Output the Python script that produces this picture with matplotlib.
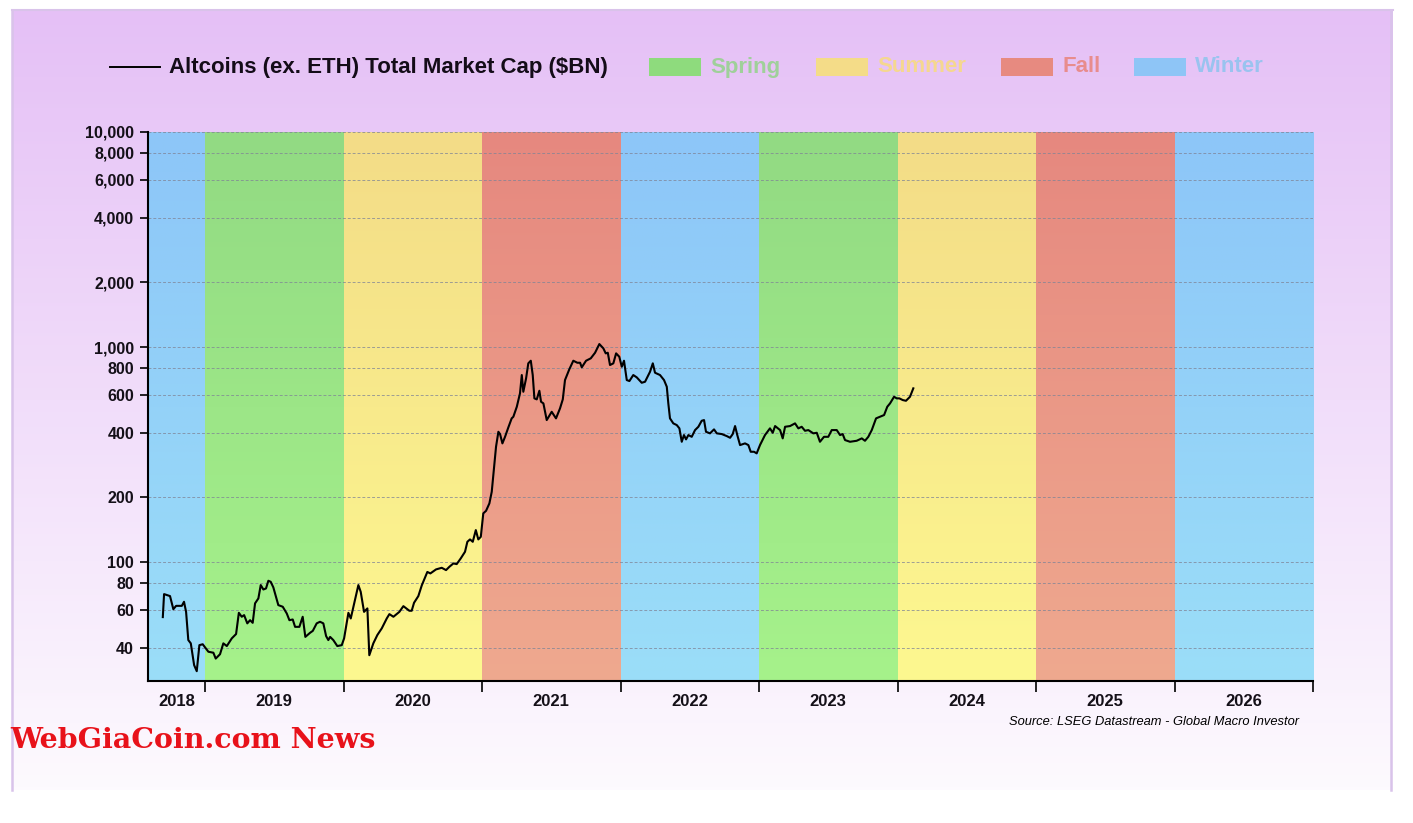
import numpy as np
import matplotlib
matplotlib.use("Agg")
import matplotlib.pyplot as plt
from matplotlib.patches import Rectangle
from matplotlib.lines import Line2D
from matplotlib.colors import to_rgb
from matplotlib.ticker import FixedLocator, NullLocator, NullFormatter

# ---------------- data ----------------
years = [2018.695, 2018.704, 2018.747, 2018.771, 2018.791, 2018.832, 2018.848, 2018.863, 2018.879, 2018.897,
         2018.921, 2018.940, 2018.959, 2018.983, 2019.024, 2019.060, 2019.077, 2019.108, 2019.132, 2019.157,
         2019.193, 2019.224, 2019.244, 2019.265, 2019.282, 2019.305, 2019.325, 2019.344, 2019.361, 2019.385,
         2019.402, 2019.421, 2019.440, 2019.457, 2019.474, 2019.493, 2019.529, 2019.561, 2019.590, 2019.609,
         2019.633, 2019.650, 2019.681, 2019.705, 2019.724, 2019.758, 2019.778, 2019.806, 2019.830, 2019.854,
         2019.874, 2019.890, 2019.903, 2019.926, 2019.955, 2019.987, 2020.004, 2020.035, 2020.052, 2020.071,
         2020.107, 2020.124, 2020.148, 2020.172, 2020.186, 2020.215, 2020.244, 2020.276, 2020.312, 2020.331,
         2020.360, 2020.403, 2020.432, 2020.475, 2020.492, 2020.509, 2020.540, 2020.565, 2020.605, 2020.627,
         2020.668, 2020.709, 2020.740, 2020.764, 2020.793, 2020.817, 2020.846, 2020.877, 2020.894, 2020.913,
         2020.933, 2020.955, 2020.973, 2020.991, 2021.009, 2021.029, 2021.053, 2021.070, 2021.087, 2021.101,
         2021.118, 2021.130, 2021.147, 2021.166, 2021.190, 2021.214, 2021.226, 2021.251, 2021.274, 2021.287,
         2021.298, 2021.318, 2021.334, 2021.352, 2021.366, 2021.378, 2021.395, 2021.414, 2021.426, 2021.443,
         2021.467, 2021.503, 2021.534, 2021.563, 2021.583, 2021.599, 2021.630, 2021.659, 2021.688, 2021.708,
         2021.720, 2021.751, 2021.785, 2021.816, 2021.847, 2021.876, 2021.893, 2021.908, 2021.924, 2021.948,
         2021.968, 2021.991, 2022.009, 2022.025, 2022.045, 2022.064, 2022.092, 2022.117, 2022.153, 2022.177,
         2022.213, 2022.233, 2022.249, 2022.285, 2022.314, 2022.334, 2022.345, 2022.357, 2022.381, 2022.406,
         2022.425, 2022.442, 2022.458, 2022.473, 2022.490, 2022.514, 2022.538, 2022.562, 2022.586, 2022.603,
         2022.617, 2022.646, 2022.675, 2022.695, 2022.731, 2022.767, 2022.791, 2022.810, 2022.827, 2022.843,
         2022.863, 2022.899, 2022.923, 2022.940, 2022.964, 2022.983, 2023.007, 2023.043, 2023.079, 2023.099,
         2023.116, 2023.152, 2023.171, 2023.188, 2023.224, 2023.260, 2023.284, 2023.308, 2023.332, 2023.356,
         2023.392, 2023.417, 2023.440, 2023.469, 2023.500, 2023.525, 2023.561, 2023.585, 2023.604, 2023.621,
         2023.657, 2023.705, 2023.742, 2023.765, 2023.789, 2023.814, 2023.845, 2023.874, 2023.903, 2023.926,
         2023.946, 2023.975, 2023.994, 2024.013, 2024.038, 2024.061, 2024.090, 2024.114]

altcoin_cap = [55.5, 71.0, 69.5, 60.4, 62.6, 62.6, 65.4, 58.7, 43.4, 41.9,
               33.2, 31.1, 41.1, 41.5, 38.3, 37.9, 35.6, 37.3, 41.9, 40.7,
               44.2, 46.3, 58.1, 55.7, 56.7, 51.9, 53.7, 52.2, 64.3, 67.8,
               78.2, 74.6, 75.4, 81.9, 81.0, 76.3, 63.1, 62.0, 57.7, 53.7,
               54.1, 50.0, 50.0, 55.7, 44.9, 46.9, 47.9, 51.9, 52.8, 51.9,
               45.3, 43.4, 44.9, 43.4, 40.7, 41.1, 44.2, 58.1, 54.7, 62.0,
               78.2, 72.7, 58.7, 60.9, 36.9, 41.9, 45.8, 49.2, 54.7, 57.3,
               55.7, 58.7, 62.4, 59.4, 59.4, 64.7, 69.5, 78.0, 90.0, 88.6,
               92.5, 94.1, 91.8, 95.1, 98.6, 97.9, 104.0, 111.7, 124.3, 127.5,
               124.3, 140.9, 127.5, 131.1, 168.5, 173.2, 187.5, 212.3, 277.6, 343.9,
               403.7, 393.9, 356.5, 382.5, 423.2, 466.0, 474.1, 527.7, 609.3, 741.1,
               619.7, 715.3, 840.0, 863.8, 741.1, 577.3, 571.1, 626.3, 556.7, 547.1,
               457.6, 500.0, 466.0, 518.6, 571.1, 702.3, 787.8, 863.8, 845.3, 845.3,
               804.9, 863.8, 886.2, 940.7, 1032.7, 986.0, 934.7, 940.7, 824.8, 840.0,
               934.7, 901.5, 809.8, 863.8, 702.3, 694.9, 741.1, 722.9, 682.3, 689.7,
               767.7, 840.0, 759.6, 741.1, 702.3, 653.7, 547.1, 466.0, 441.7, 433.7,
               418.7, 362.7, 389.7, 372.1, 389.7, 382.5, 411.1, 425.9, 454.2, 457.6,
               403.7, 396.9, 414.2, 396.9, 393.9, 385.5, 378.5, 393.9, 429.2, 389.7,
               350.1, 356.5, 350.1, 325.9, 325.9, 320.3, 350.1, 389.7, 418.7, 399.4,
               429.2, 411.1, 376.1, 425.9, 429.2, 441.7, 418.7, 425.9, 408.0, 411.1,
               396.9, 399.4, 362.7, 382.5, 382.5, 411.1, 411.1, 389.7, 393.9, 369.4,
               362.7, 366.6, 376.1, 366.6, 382.5, 411.1, 466.0, 474.1, 482.9, 527.7,
               547.1, 587.2, 577.3, 577.3, 566.9, 562.6, 587.2, 642.7]

season_names = ["Winter", "Spring", "Summer", "Fall", "Winter", "Spring", "Summer", "Fall", "Winter"]
season_start = [2018.588, 2019, 2020, 2021, 2022, 2023, 2024, 2025, 2026]
season_end = [2019, 2020, 2021, 2022, 2023, 2024, 2025, 2026, 2027]

legend_seasons = ["Spring", "Summer", "Fall", "Winter"]

year_labels = ["2018", "2019", "2020", "2021", "2022", "2023", "2024", "2025", "2026"]
year_label_pos = [2018.794, 2019.5, 2020.5, 2021.5, 2022.5, 2023.5, 2024.5, 2025.5, 2026.5]
year_ticks = [2019, 2020, 2021, 2022, 2023, 2024, 2025, 2026, 2027]

y_ticks = [40, 60, 80, 100, 200, 400, 600, 800, 1000, 2000, 4000, 6000, 8000, 10000]
y_tick_labels = ["40", "60", "80", "100", "200", "400", "600", "800",
                 "1,000", "2,000", "4,000", "6,000", "8,000", "10,000"]

# ---------------- styles ----------------
band_colors = {  # (top, bottom)
    "Winter": ("#8dc6f8", "#9bdef8"),
    "Spring": ("#92da83", "#a6f28b"),
    "Summer": ("#f3dc87", "#fdf890"),
    "Fall": ("#e6887f", "#efa98f"),
}
legend_patch_colors = {"Spring": "#8edb7d", "Summer": "#f4dc88", "Fall": "#e78a80", "Winter": "#8ec5f6"}
legend_text_colors = {"Spring": "#9fd09a", "Summer": "#f5d78f", "Fall": "#e88c8d", "Winter": "#9ac3ef"}

W, H = 1413, 823
plt.rcParams["font.family"] = ["Liberation Sans", "DejaVu Sans"]

fig = plt.figure(figsize=(W / 100, H / 100), dpi=100)
fig.patch.set_facecolor("white")


def grad(top, bottom, n=256):
    t = np.linspace(0, 1, n)[:, None]
    c0 = np.array(to_rgb(bottom))
    c1 = np.array(to_rgb(top))
    arr = c0[None, :] * (1 - t) + c1[None, :] * t
    return arr[:, None, :]


# panel background
px0, py0, px1, py1 = 12, 10, 1393, 790
bgax = fig.add_axes([px0 / W, 1 - py1 / H, (px1 - px0) / W, (py1 - py0) / H])
bgax.imshow(grad("#e5c0f6", "#fdfafe"), aspect="auto", extent=[0, 1, 0, 1], origin="lower")
bgax.set_xlim(0, 1)
bgax.set_ylim(0, 1)
bgax.axis("off")
edge = "#d9c3ea"
fig.add_artist(Line2D([px0 / W, px1 / W], [1 - py0 / H, 1 - py0 / H], color=edge, linewidth=1.5,
                      transform=fig.transFigure))
fig.add_artist(Line2D([px0 / W, px0 / W], [1 - py0 / H, 1 - py1 / H], color=edge, linewidth=1.8,
                      transform=fig.transFigure))
fig.add_artist(Line2D([(px1 - 2) / W, (px1 - 2) / W], [1 - py0 / H, 1 - py1 / H], color=edge, linewidth=1.8,
                      transform=fig.transFigure))

# plot area
ax_l, ax_r, ax_t, ax_b = 148, 1313, 132, 681
pos = [ax_l / W, 1 - ax_b / H, (ax_r - ax_l) / W, (ax_b - ax_t) / H]
x_min, x_max = season_start[0], season_end[-1]

bax = fig.add_axes(pos)
for s, e, name in zip(season_start, season_end, season_names):
    top, bot = band_colors[name]
    bax.imshow(grad(top, bot), aspect="auto", extent=[s, e, 0, 1], origin="lower")
bax.set_xlim(x_min, x_max)
bax.set_ylim(0, 1)
bax.axis("off")

ax = fig.add_axes(pos)
ax.patch.set_alpha(0)
ax.set_yscale("log")
ax.plot(years, altcoin_cap, color="black", linewidth=1.5, zorder=3)
ax.set_xlim(x_min, x_max)
ax.set_ylim(28, 10000)

ax.yaxis.set_major_locator(FixedLocator(y_ticks))
ax.set_yticklabels(y_tick_labels)
ax.yaxis.set_minor_locator(NullLocator())
ax.yaxis.set_minor_formatter(NullFormatter())
ax.grid(axis="y", which="major", color="#7f8496", linestyle=(0, (3, 2)), linewidth=0.7, alpha=0.75)

ax.xaxis.set_major_locator(FixedLocator(year_ticks))
ax.xaxis.set_major_formatter(NullFormatter())
ax.xaxis.set_minor_locator(FixedLocator(year_label_pos))
ax.set_xticklabels(year_labels, minor=True)

ax.tick_params(axis="x", which="major", length=8, width=1.2, color="black", direction="out")
ax.tick_params(axis="x", which="minor", length=0, pad=9, labelsize=12)
ax.tick_params(axis="y", which="major", length=6, width=1.2, color="black", direction="out",
               pad=4, labelsize=11.5)
for lab in ax.get_xticklabels(minor=True) + ax.get_yticklabels():
    lab.set_fontweight("bold")
    lab.set_color("#141018")

for sp in ["top", "right"]:
    ax.spines[sp].set_visible(False)
for sp in ["left", "bottom"]:
    ax.spines[sp].set_color("black")
    ax.spines[sp].set_linewidth(1.5)

# legend (drawn in figure pixels)
ly = 1 - 67 / H
fig.add_artist(Line2D([110 / W, 160 / W], [ly, ly], color="black", linewidth=1.4, transform=fig.transFigure))
fig.text(169 / W, ly, "Altcoins (ex. ETH) Total Market Cap ($BN)", fontsize=16, fontweight="bold",
         color="#140c18", ha="left", va="center")
patch_x = [649, 816, 1001, 1134]
for x, name in zip(patch_x, legend_seasons):
    fig.patches.append(Rectangle((x / W, 1 - 76 / H), 52 / W, 18 / H, transform=fig.transFigure,
                                 facecolor=legend_patch_colors[name], edgecolor="none"))
    fig.text((x + 61) / W, ly, name, fontsize=16, fontweight="bold", color=legend_text_colors[name],
             ha="left", va="center")

# source and watermark
fig.text(1299 / W, 1 - 722 / H, "Source: LSEG Datastream - Global Macro Investor", fontsize=9.3,
         style="italic", color="black", ha="right", va="center")
fig.text(10 / W, 1 - 741 / H, "WebGiaCoin.com News", fontsize=20.5, fontweight="heavy",
         family=["DejaVu Serif"], color="#e8121a", ha="left", va="center")

fig.savefig("out.png", dpi=100)
